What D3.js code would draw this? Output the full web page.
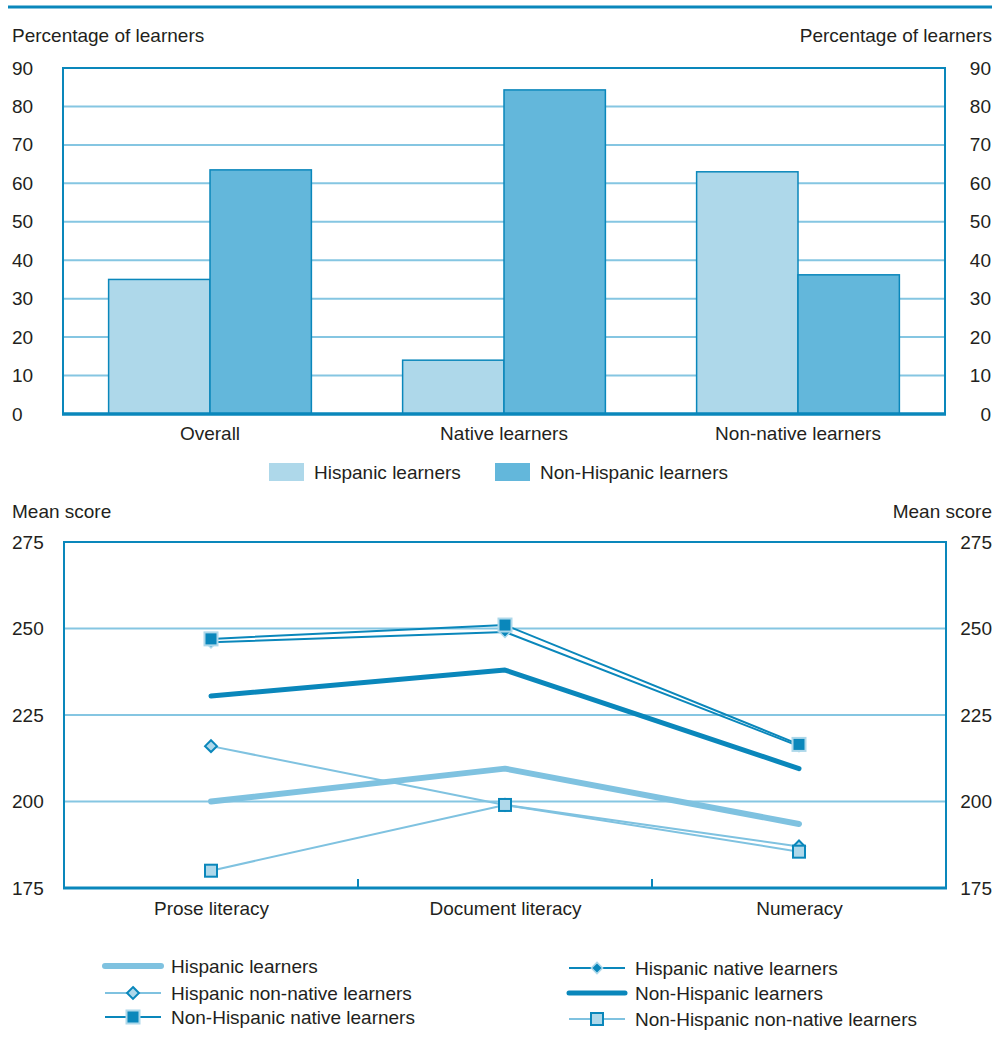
<!DOCTYPE html>
<html>
<head>
<meta charset="utf-8">
<script src="https://cdn.jsdelivr.net/npm/d3@7"></script>
<style>
  body { margin: 0; background: #fff; }
  svg text { font-family: "Liberation Sans Narrow", "Arial Narrow", "Liberation Sans", sans-serif; fill: #231f20; }
</style>
</head>
<body>
<div id="chart"></div>
<script>
// Top panel: share of learners (%)
const barGroups = ["Overall", "Native learners", "Non-native learners"];
const barSeries = ["Hispanic learners", "Non-Hispanic learners"];
const hispanicPct = [35, 14, 63];
const nonHispanicPct = [63.5, 84.3, 36.2];
const pctTicks = [0, 10, 20, 30, 40, 50, 60, 70, 80, 90];

// Bottom panel: mean scores
const domains = ["Prose literacy", "Document literacy", "Numeracy"];
const scoreTicks = [175, 200, 225, 250, 275];
const hispanicAll = [200, 209.5, 193.5];
const hispanicNative = [246, 249, 216];
const hispanicNonNative = [216, 199, 187];
const nonHispanicAll = [230.5, 238, 209.5];
const nonHispanicNative = [247, 251, 216.5];
const nonHispanicNonNative = [180, 199, 185.5];

const dark = "#0a87bb", grid = "#85c6e2", light = "#aed8ea", mid = "#63b7db", lineLight = "#7fc2e0";
const fs = 19;

const W = 1005, H = 1046;
const svg = d3.select("#chart").append("svg").attr("width", W).attr("height", H);

// header rule
svg.append("line").attr("x1", 8).attr("x2", 992).attr("y1", 7).attr("y2", 7)
  .attr("stroke", dark).attr("stroke-width", 3);

// ---------- TOP PANEL ----------
const t = { left: 63, right: 945, top: 68, bottom: 414 };
const x0 = d3.scaleBand().domain(barGroups).range([t.left, t.right]).paddingInner(0).paddingOuter(0);
const x1 = d3.scaleBand().domain(barSeries).range([0, x0.bandwidth()]).paddingInner(0).paddingOuter(0.45);
const y1 = d3.scaleLinear().domain([0, 90]).range([t.bottom, t.top]);
const barColor = d3.scaleOrdinal().domain(barSeries).range([light, mid]);

const topG = svg.append("g");
topG.append("g").selectAll("line").data(pctTicks.filter(d => d > 0 && d < 90)).join("line")
  .attr("x1", t.left).attr("x2", t.right).attr("y1", d => y1(d)).attr("y2", d => y1(d))
  .attr("stroke", grid).attr("stroke-width", 2);

const barData = barGroups.flatMap((g, i) => [
  { group: g, series: barSeries[0], value: hispanicPct[i] },
  { group: g, series: barSeries[1], value: nonHispanicPct[i] }
]);
topG.append("g").selectAll("rect").data(barData).join("rect")
  .attr("x", d => x0(d.group) + x1(d.series))
  .attr("y", d => y1(d.value))
  .attr("width", x1.bandwidth())
  .attr("height", d => y1(0) - y1(d.value))
  .attr("fill", d => barColor(d.series))
  .attr("stroke", dark).attr("stroke-width", 1.5);

// frame
topG.append("path").attr("d", `M${t.left},${t.bottom}V${t.top}H${t.right}V${t.bottom}`)
  .attr("fill", "none").attr("stroke", dark).attr("stroke-width", 2);
topG.append("line").attr("x1", t.left - 1).attr("x2", t.right + 1).attr("y1", t.bottom).attr("y2", t.bottom)
  .attr("stroke", dark).attr("stroke-width", 3.5);

// axes text
topG.append("g").attr("transform", `translate(${t.left},0)`)
  .call(d3.axisLeft(y1).tickValues(pctTicks).tickSize(0))
  .call(g => g.select(".domain").remove())
  .selectAll("text").attr("font-size", fs).attr("text-anchor", "start").attr("x", -51).attr("fill", "#231f20");
topG.append("g").attr("transform", `translate(${t.right},0)`)
  .call(d3.axisRight(y1).tickValues(pctTicks).tickSize(0))
  .call(g => g.select(".domain").remove())
  .selectAll("text").attr("font-size", fs).attr("text-anchor", "end").attr("x", 46).attr("fill", "#231f20");
topG.append("g").attr("transform", `translate(0,${t.bottom})`)
  .call(d3.axisBottom(x0).tickSize(0).tickPadding(13))
  .call(g => g.select(".domain").remove())
  .selectAll("text").attr("font-size", fs).attr("fill", "#231f20");
topG.append("text").attr("x", 12).attr("y", 42).attr("font-size", fs).text("Percentage of learners");
topG.append("text").attr("x", 992).attr("y", 42).attr("font-size", fs).attr("text-anchor", "end").text("Percentage of learners");

// bar legend
const barLegX = [269, 495];
barSeries.forEach((s, i) => {
  svg.append("rect").attr("x", barLegX[i]).attr("y", 463).attr("width", 35).attr("height", 18).attr("fill", barColor(s));
  svg.append("text").attr("x", barLegX[i] + 45).attr("y", 479).attr("font-size", fs).text(s);
});

// ---------- BOTTOM PANEL ----------
const b = { left: 64, right: 946, top: 542, bottom: 888 };
const xb = d3.scalePoint().domain(domains).range([b.left, b.right]).padding(0.5);
const yb = d3.scaleLinear().domain([175, 275]).range([b.bottom, b.top]);
const botG = svg.append("g");

botG.append("g").selectAll("line").data(scoreTicks.filter(d => d > 175 && d < 275)).join("line")
  .attr("x1", b.left).attr("x2", b.right).attr("y1", d => yb(d)).attr("y2", d => yb(d))
  .attr("stroke", grid).attr("stroke-width", 2);

botG.append("path").attr("d", `M${b.left},${b.bottom}V${b.top}H${b.right}V${b.bottom}`)
  .attr("fill", "none").attr("stroke", dark).attr("stroke-width", 2);
botG.append("line").attr("x1", b.left - 1).attr("x2", b.right + 1).attr("y1", b.bottom).attr("y2", b.bottom)
  .attr("stroke", dark).attr("stroke-width", 3);
// category separators
const sepX = domains.slice(1).map((d, i) => (xb(domains[i]) + xb(d)) / 2);
botG.append("g").selectAll("line").data(sepX).join("line")
  .attr("x1", d => d).attr("x2", d => d).attr("y1", b.bottom).attr("y2", b.bottom - 9)
  .attr("stroke", dark).attr("stroke-width", 2);

const series = [
  { name: "Hispanic learners", values: hispanicAll, stroke: lineLight, width: 6, marker: null },
  { name: "Non-Hispanic learners", values: nonHispanicAll, stroke: dark, width: 5, marker: null },
  { name: "Hispanic non-native learners", values: hispanicNonNative, stroke: lineLight, width: 2, marker: "diamondOpen" },
  { name: "Non-Hispanic non-native learners", values: nonHispanicNonNative, stroke: lineLight, width: 2, marker: "squareOpen" },
  { name: "Hispanic native learners", values: hispanicNative, stroke: dark, width: 2, marker: "diamondFilled" },
  { name: "Non-Hispanic native learners", values: nonHispanicNative, stroke: dark, width: 2, marker: "squareFilled" }
];

const line = d3.line().x((d, i) => xb(domains[i])).y(d => yb(d));

function drawMarker(g, type, cx, cy) {
  if (type === "squareFilled") {
    g.append("rect").attr("x", cx - 6.5).attr("y", cy - 6.5).attr("width", 13).attr("height", 13)
      .attr("fill", dark).attr("stroke", light).attr("stroke-width", 2);
  } else if (type === "squareOpen") {
    g.append("rect").attr("x", cx - 6).attr("y", cy - 6).attr("width", 12).attr("height", 12)
      .attr("fill", light).attr("stroke", dark).attr("stroke-width", 2);
  } else if (type === "diamondFilled") {
    g.append("path").attr("d", d3.symbol(d3.symbolDiamond2, 80)())
      .attr("transform", `translate(${cx},${cy})`)
      .attr("fill", dark).attr("stroke", light).attr("stroke-width", 1.5);
  } else if (type === "diamondOpen") {
    g.append("path").attr("d", d3.symbol(d3.symbolDiamond2, 90)())
      .attr("transform", `translate(${cx},${cy})`)
      .attr("fill", light).attr("stroke", dark).attr("stroke-width", 2);
  }
}

const seriesG = botG.append("g");
series.forEach(s => {
  seriesG.append("path").datum(s.values).attr("d", line)
    .attr("fill", "none").attr("stroke", s.stroke).attr("stroke-width", s.width)
    .attr("stroke-linecap", s.marker ? "butt" : "round").attr("stroke-linejoin", "round");
});
series.filter(s => s.marker).forEach(s => {
  s.values.forEach((v, i) => drawMarker(seriesG, s.marker, xb(domains[i]), yb(v)));
});

botG.append("g").attr("transform", `translate(${b.left},0)`)
  .call(d3.axisLeft(yb).tickValues(scoreTicks).tickSize(0))
  .call(g => g.select(".domain").remove())
  .selectAll("text").attr("font-size", fs).attr("text-anchor", "start").attr("x", -52).attr("fill", "#231f20");
botG.append("g").attr("transform", `translate(${b.right},0)`)
  .call(d3.axisRight(yb).tickValues(scoreTicks).tickSize(0))
  .call(g => g.select(".domain").remove())
  .selectAll("text").attr("font-size", fs).attr("text-anchor", "end").attr("x", 46).attr("fill", "#231f20");
botG.append("g").attr("transform", `translate(0,${b.bottom})`)
  .call(d3.axisBottom(xb).tickSize(0).tickPadding(14))
  .call(g => g.select(".domain").remove())
  .selectAll("text").attr("font-size", fs).attr("fill", "#231f20");
botG.append("text").attr("x", 12).attr("y", 518).attr("font-size", fs).text("Mean score");
botG.append("text").attr("x", 992).attr("y", 518).attr("font-size", fs).attr("text-anchor", "end").text("Mean score");

// line legend
const legendItems = [
  { s: series[0], x: 105, y: 966 },
  { s: series[2], x: 105, y: 993 },
  { s: series[5], x: 105, y: 1017 },
  { s: series[4], x: 569, y: 968 },
  { s: series[1], x: 569, y: 993 },
  { s: series[3], x: 569, y: 1019 }
];
const legG = svg.append("g");
legendItems.forEach(it => {
  const s = it.s;
  legG.append("line").attr("x1", it.x).attr("x2", it.x + 56).attr("y1", it.y).attr("y2", it.y)
    .attr("stroke", s.stroke).attr("stroke-width", s.width).attr("stroke-linecap", s.marker ? "butt" : "round");
  if (s.marker) drawMarker(legG, s.marker, it.x + 28, it.y);
  legG.append("text").attr("x", it.x + 66).attr("y", it.y + 7).attr("font-size", fs).text(s.name);
});
</script>
</body>
</html>
